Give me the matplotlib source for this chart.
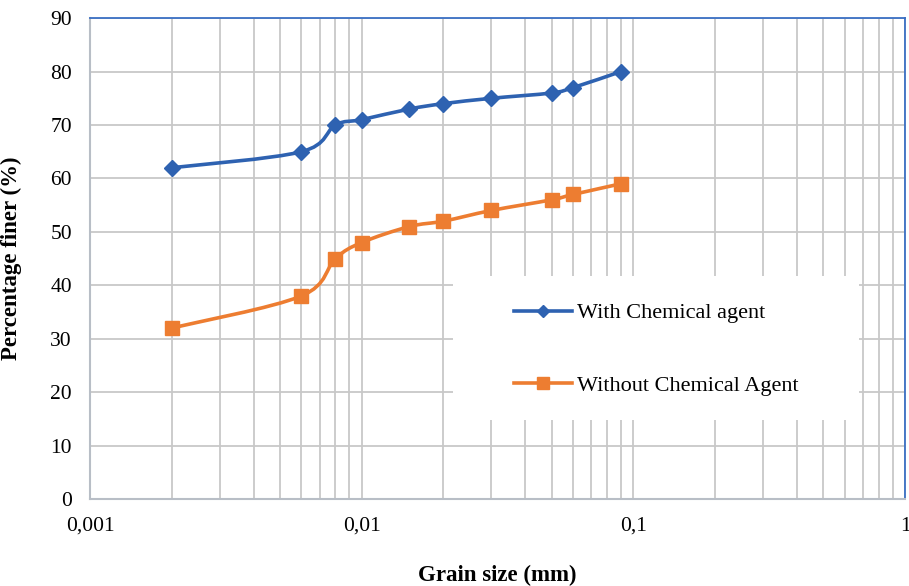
import numpy as np
import matplotlib
matplotlib.use("Agg")
import matplotlib.pyplot as plt
from matplotlib.path import Path
from matplotlib.patches import PathPatch, Rectangle
from matplotlib.lines import Line2D
from matplotlib.ticker import FixedLocator, FixedFormatter, LogLocator, NullFormatter

plt.rcParams["font.family"] = ["Liberation Serif", "DejaVu Serif"]

# grain size (mm) and percentage finer (%)
grain = [0.002, 0.006, 0.008, 0.01, 0.015, 0.02, 0.03, 0.05, 0.06, 0.09]
with_agent = [62, 65, 70, 71, 73, 74, 75, 76, 77, 80]
without_agent = [32, 38, 45, 48, 51, 52, 54, 56, 57, 59]
labels = ["With Chemical agent", "Without Chemical Agent"]
x_ticks = [0.001, 0.01, 0.1, 1]
x_ticklabels = ["0,001", "0,01", "0,1", "1"]

BLUE = "#2E62B1"
ORANGE = "#ED7D31"
GRID = "#C8C8C8"


def smooth_path(x, y):
    """Excel-like smoothed line: cubic Bezier (Catmull-Rom) in log-x space."""
    p = np.column_stack([np.log10(x), np.asarray(y, float)])
    n = len(p)
    verts, codes = [p[0]], [Path.MOVETO]
    for i in range(n - 1):
        p0 = p[i - 1] if i > 0 else p[i]
        p3 = p[i + 2] if i + 2 < n else p[i + 1]
        c1 = p[i] + (p[i + 1] - p0) / 6
        c2 = p[i + 1] - (p3 - p[i]) / 6
        verts += [c1, c2, p[i + 1]]
        codes += [Path.CURVE4] * 3
    v = np.array(verts)
    v[:, 0] = 10 ** v[:, 0]
    return Path(v, codes)


fig = plt.figure(figsize=(9.09, 5.86), dpi=100)
ax = fig.add_axes([0.099, 0.1485, 0.8966, 0.8205])
ax.set_xscale("log")
ax.set_xlim(0.001, 1)
ax.set_ylim(0, 90)
ax.set_axisbelow(True)

ax.xaxis.set_major_locator(FixedLocator(x_ticks))
ax.xaxis.set_major_formatter(FixedFormatter(x_ticklabels))
ax.xaxis.set_minor_locator(LogLocator(base=10, subs=np.arange(2, 10)))
ax.xaxis.set_minor_formatter(NullFormatter())
ax.set_yticks(np.arange(0, 91, 10))
ax.grid(True, which="both", axis="x", color=GRID, lw=1.3)
ax.grid(True, which="major", axis="y", color=GRID, lw=1.3)
ax.tick_params(which="both", length=0, labelsize=15.5)
ax.tick_params(axis="y", pad=13)
ax.tick_params(axis="x", pad=13)

for s in ("top", "right"):
    ax.spines[s].set_color("#3A6FC4")
    ax.spines[s].set_linewidth(1.3)
for s in ("left", "bottom"):
    ax.spines[s].set_color("#B8BEC6")
    ax.spines[s].set_linewidth(1.5)

# white legend panel covering the grid
fig.add_artist(Rectangle((0.498, 0.283), 0.447, 0.246, transform=fig.transFigure,
                         facecolor="white", edgecolor="none", zorder=1))

for y, c, m, ms in [(with_agent, BLUE, "D", 8), (without_agent, ORANGE, "s", 10)]:
    ax.add_patch(PathPatch(smooth_path(grain, y), facecolor="none", edgecolor=c,
                           lw=2.6, zorder=3))
    ax.plot(grain, y, ls="none", marker=m, ms=ms, color=c, zorder=4)

handles = [Line2D([], [], color=BLUE, lw=2.6, marker="D", ms=6.5),
           Line2D([], [], color=ORANGE, lw=2.6, marker="s", ms=9)]
leg = fig.legend(handles, labels, loc="upper left", bbox_to_anchor=(0.553, 0.502),
                 frameon=False, fontsize=16, handlelength=2.6, handletextpad=0.25,
                 labelspacing=2.35, borderpad=0)
leg.set_zorder(5)

ax.set_xlabel("Grain size (mm)", fontsize=16.5, fontweight="bold")
ax.set_ylabel("Percentage finer (%)", fontsize=16.5, fontweight="bold")
ax.xaxis.set_label_coords(0.5, -0.138)
ax.yaxis.set_label_coords(-0.083, 0.5)

fig.savefig("out.png", dpi=100)
